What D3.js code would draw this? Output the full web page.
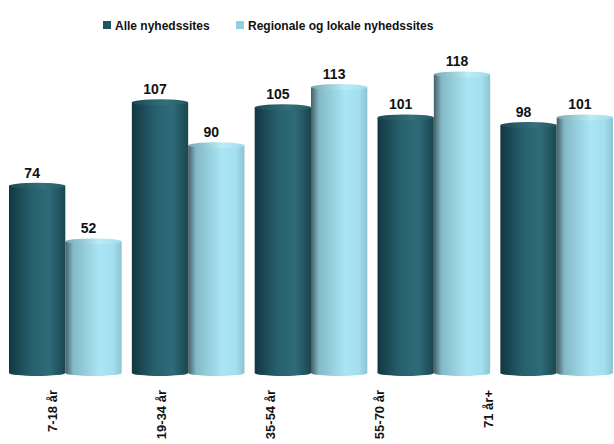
<!DOCTYPE html>
<html>
<head>
<meta charset="utf-8">
<script src="https://cdn.jsdelivr.net/npm/d3@7"></script>
<style>
  body { margin: 0; background: #fff; }
  svg { display: block; font-family: "Liberation Sans", Arial, sans-serif; font-weight: bold; }
</style>
</head>
<body>
<div id="chart"></div>
<script>
const categories = ['7-18 år', '19-34 år', '35-54 år', '55-70 år', '71 år+'];
const seriesNames = ['Alle nyhedssites', 'Regionale og lokale nyhedssites'];
const alleValues = [74, 107, 105, 101, 98];
const regionalValues = [52, 90, 113, 118, 101];

const width = 614;
const height = 444;

const svg = d3.select('#chart').append('svg')
  .attr('width', width)
  .attr('height', height);

// gradients for the cylinder look
const defs = svg.append('defs');
const gradStops = [
  { id: 'g0', stops: [['0%', '#123741'], ['40%', '#26606d'], ['72%', '#2e6b78'], ['100%', '#1a4650']] },
  { id: 'g1', stops: [['0%', '#465f66'], ['14%', '#84b9c7'], ['60%', '#a9e5f3'], ['85%', '#a3dfee'], ['100%', '#8cc3d1']] },
  { id: 't0', stops: [['0%', '#1d4a55'], ['60%', '#34707d'], ['100%', '#265a66']] },
  { id: 't1', stops: [['0%', '#7aa9b5'], ['60%', '#b8ecf7'], ['100%', '#a5dcea']] }
];
gradStops.forEach(g => {
  const lg = defs.append('linearGradient').attr('id', g.id).attr('x1', '0%').attr('x2', '100%');
  g.stops.forEach(s => lg.append('stop').attr('offset', s[0]).attr('stop-color', s[1]));
});

const x0 = d3.scaleBand()
  .domain(categories)
  .range([9, 613])
  .paddingInner(0.083)
  .paddingOuter(0);

const x1 = d3.scaleBand()
  .domain([0, 1])
  .range([0, x0.bandwidth()]);

const y = d3.scaleLinear()
  .domain([0, 120])
  .range([373, 69.4]);

// category labels sit on their own (offset) positions as in the original
const xLabel = d3.scalePoint()
  .domain(categories)
  .range([52, 488]);

const data = categories.map((c, i) => ({ cat: c, values: [alleValues[i], regionalValues[i]] }));

const ry = 3;
const groups = svg.selectAll('g.grp')
  .data(data)
  .join('g')
  .attr('class', 'grp')
  .attr('transform', d => `translate(${x0(d.cat)},0)`);

const bars = groups.selectAll('g.bar')
  .data(d => d.values.map((v, s) => ({ v, s })))
  .join('g')
  .attr('class', 'bar');

// bottom cap
bars.append('ellipse')
  .attr('cx', d => x1(d.s) + x1.bandwidth() / 2)
  .attr('cy', y(0))
  .attr('rx', x1.bandwidth() / 2)
  .attr('ry', ry)
  .attr('fill', d => `url(#g${d.s})`);

// body
bars.append('rect')
  .attr('x', d => x1(d.s))
  .attr('y', d => y(d.v))
  .attr('width', x1.bandwidth())
  .attr('height', d => y(0) - y(d.v))
  .attr('fill', d => `url(#g${d.s})`);

// top cap
bars.append('ellipse')
  .attr('cx', d => x1(d.s) + x1.bandwidth() / 2)
  .attr('cy', d => y(d.v))
  .attr('rx', x1.bandwidth() / 2)
  .attr('ry', ry)
  .attr('fill', d => `url(#t${d.s})`);

// value labels
bars.append('text')
  .attr('x', d => x1(d.s) + x1.bandwidth() / 2 - 5)
  .attr('y', d => y(d.v) - 8)
  .attr('text-anchor', 'middle')
  .style('font-size', '14px')
  .attr('fill', '#111')
  .text(d => d.v);

// rotated category labels
svg.selectAll('text.cat')
  .data(categories)
  .join('text')
  .attr('class', 'cat')
  .attr('transform', d => `translate(${xLabel(d) + 5},390) rotate(-90)`)
  .attr('text-anchor', 'end')
  .style('font-size', '13px')
  .attr('fill', '#111')
  .text(d => d);

// legend
const legendColors = ['#1f5663', '#8fd0e0'];
const legendX = [103, 236];
const legend = svg.selectAll('g.legend')
  .data(seriesNames)
  .join('g')
  .attr('class', 'legend')
  .attr('transform', (d, i) => `translate(${legendX[i]},21)`);
legend.append('rect')
  .attr('width', 8)
  .attr('height', 8)
  .attr('fill', (d, i) => legendColors[i]);
legend.append('text')
  .attr('x', 12)
  .attr('y', 8.5)
  .style('font-size', '12px')
  .attr('fill', '#111')
  .text(d => d);
</script>
</body>
</html>
